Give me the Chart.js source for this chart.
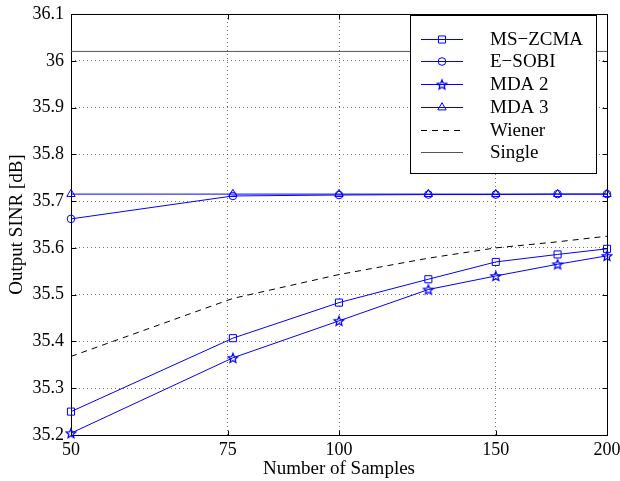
<!DOCTYPE html>
<html><head><meta charset="utf-8">
<script src="https://cdn.jsdelivr.net/npm/chart.js@4.4.0/dist/chart.umd.min.js"></script>
<style>html,body{margin:0;padding:0;background:#fff}#wrap{width:620px;height:481px}</style>
</head><body><div id="wrap"><canvas id="c" width="620" height="481"></canvas></div>
<script>
const samples = [50, 76, 100, 126, 150, 176, 200];
const msZcma = [35.250, 35.407, 35.483, 35.533, 35.570, 35.586, 35.598];
const eSobi  = [35.662, 35.711, 35.713, 35.714, 35.714, 35.715, 35.715];
const mda2   = [35.204, 35.365, 35.444, 35.511, 35.540, 35.565, 35.583];
const mda3   = [35.715, 35.715, 35.715, 35.715, 35.715, 35.715, 35.715];
const wiener = [35.368, 35.492, 35.543, 35.578, 35.600, 35.613, 35.625];
const single = [36.02, 36.02, 36.02, 36.02, 36.02, 36.02, 36.02];
const xTicks = [50, 75, 100, 150, 200];
const yTicks = [35.2, 35.3, 35.4, 35.5, 35.6, 35.7, 35.8, 35.9, 36.0, 36.1];
const names = ['MS\u2212ZCMA', 'E\u2212SOBI', 'MDA 2', 'MDA 3', 'Wiener', 'Single'];

const BLUE = '#0000ff';
const FONT = '"Liberation Serif", "Times New Roman", serif';

function makeStar(r, color) {
  const s = 2 * Math.ceil(r + 2);
  const c = document.createElement('canvas');
  c.width = c.height = s;
  const g = c.getContext('2d');
  g.strokeStyle = color; g.lineWidth = 1.25; g.lineJoin = 'miter';
  g.beginPath();
  for (let k = 0; k < 10; k++) {
    const ang = -Math.PI / 2 + k * Math.PI / 5;
    const rr = k % 2 ? r * 0.45 : r;
    g.lineTo(s / 2 + rr * Math.cos(ang), s / 2 + 0.5 + rr * Math.sin(ang));
  }
  g.closePath(); g.stroke();
  return c;
}
const star = makeStar(5, BLUE);

function pts(arr) { return samples.map((s, i) => ({x: s, y: arr[i]})); }

function ds(label, data, color, style, radius, dash) {
  return {
    label, data: pts(data), borderColor: color, backgroundColor: 'rgba(0,0,0,0)',
    borderWidth: 1, borderDash: dash || [], pointStyle: style || false,
    pointRadius: style ? radius : 0, pointBorderColor: color, pointBackgroundColor: 'rgba(0,0,0,0)',
    pointBorderWidth: 1, pointHoverRadius: style ? radius : 0, tension: 0, clip: false
  };
}

const frame = {
  id: 'frame',
  beforeDatasetsDraw(chart) {
    const {ctx, chartArea: a, scales: {x, y}} = chart;
    const L = Math.round(a.left) + 0.5, R = Math.round(a.right) + 0.5;
    const T = Math.round(a.top) + 0.5, B = Math.round(a.bottom) + 0.5;
    ctx.save();
    ctx.strokeStyle = '#000'; ctx.lineWidth = 1; ctx.setLineDash([]);
    ctx.strokeRect(L, T, R - L, B - T);
    ctx.beginPath();
    const tl = 5;
    xTicks.forEach(v => {
      const p = Math.round(x.getPixelForValue(v)) + 0.5;
      ctx.moveTo(p, B); ctx.lineTo(p, B - tl);
      ctx.moveTo(p, T); ctx.lineTo(p, T + tl);
    });
    yTicks.forEach(v => {
      const p = Math.round(y.getPixelForValue(v)) + 0.5;
      ctx.moveTo(L, p); ctx.lineTo(L + tl, p);
      ctx.moveTo(R, p); ctx.lineTo(R - tl, p);
    });
    ctx.stroke();
    ctx.restore();
  },
  afterDraw(chart) {
    const {ctx} = chart;
    ctx.save();
    ctx.fillStyle = '#fff';
    ctx.fillRect(410, 15, 187, 159);
    ctx.strokeStyle = '#000'; ctx.lineWidth = 1; ctx.setLineDash([]);
    ctx.strokeRect(410.5, 15.5, 186, 158);
    chart.data.datasets.forEach((d, i) => {
      const yy = Math.round(38.7 + i * 22.7) + 0.5;
      ctx.save();
      ctx.strokeStyle = d.borderColor; ctx.lineWidth = d.borderWidth;
      ctx.setLineDash(d.borderDash || []);
      ctx.beginPath(); ctx.moveTo(421, yy); ctx.lineTo(463, yy); ctx.stroke();
      ctx.restore();
      if (d.pointStyle) {
        ctx.save();
        ctx.strokeStyle = d.pointBorderColor; ctx.fillStyle = 'rgba(0,0,0,0)'; ctx.lineWidth = 1;
        Chart.helpers.drawPoint(ctx, {pointStyle: d.pointStyle, radius: d.pointRadius, rotation: 0, borderWidth: 1}, 442, yy);
        ctx.restore();
      }
      ctx.fillStyle = '#000';
      ctx.font = '19px ' + FONT;
      ctx.textBaseline = 'middle'; ctx.textAlign = 'left';
      ctx.fillText(d.label, 490, yy + 1);
    });
    ctx.restore();
  }
};

new Chart(document.getElementById('c'), {
  type: 'line',
  data: {
    datasets: [
      ds(names[0], msZcma, BLUE, 'rect', 5),
      ds(names[1], eSobi, BLUE, 'circle', 3.8),
      ds(names[2], mda2, BLUE, star, 5),
      ds(names[3], mda3, BLUE, 'triangle', 4.8),
      ds(names[4], wiener, '#000', null, 0, [6, 5]),
      ds(names[5], single, '#555', null, 0)
    ]
  },
  options: {
    responsive: false, animation: false, events: [],
    layout: {padding: {left: 0, right: 13, top: 14, bottom: 0}},
    plugins: {legend: {display: false}, tooltip: {enabled: false}},
    scales: {
      x: {
        type: 'logarithmic', min: 50, max: 200,
        afterBuildTicks: s => { s.ticks = xTicks.map(v => ({value: v})); },
        afterFit: s => { s.height = 46; s.paddingLeft = 0; s.paddingRight = 0; },
        ticks: {color: '#000', font: {family: FONT, size: 18}, padding: 4, maxRotation: 0, autoSkip: false,
                callback: v => String(v)},
        grid: {color: 'rgba(0,0,0,0.55)', drawTicks: false, lineWidth: 1},
        border: {display: false, dash: [1, 3]},
        title: {display: true, text: 'Number of Samples', color: '#000', font: {family: FONT, size: 19}, padding: {top: 0, bottom: 1}}
      },
      y: {
        type: 'linear', min: 35.2, max: 36.1,
        afterBuildTicks: s => { s.ticks = yTicks.map(v => ({value: v})); },
        afterFit: s => { s.width = 71; s.paddingTop = 0; s.paddingBottom = 0; },
        ticks: {color: '#000', font: {family: FONT, size: 18}, padding: 7, autoSkip: false,
                callback: v => String(+(+v).toFixed(1))},
        grid: {color: 'rgba(0,0,0,0.55)', drawTicks: false, lineWidth: 1},
        border: {display: false, dash: [1, 3]},
        title: {display: true, text: 'Output SINR [dB]', color: '#000', font: {family: FONT, size: 19}, padding: {top: 6, bottom: 0}}
      }
    }
  },
  plugins: [frame]
});
</script></body></html>
